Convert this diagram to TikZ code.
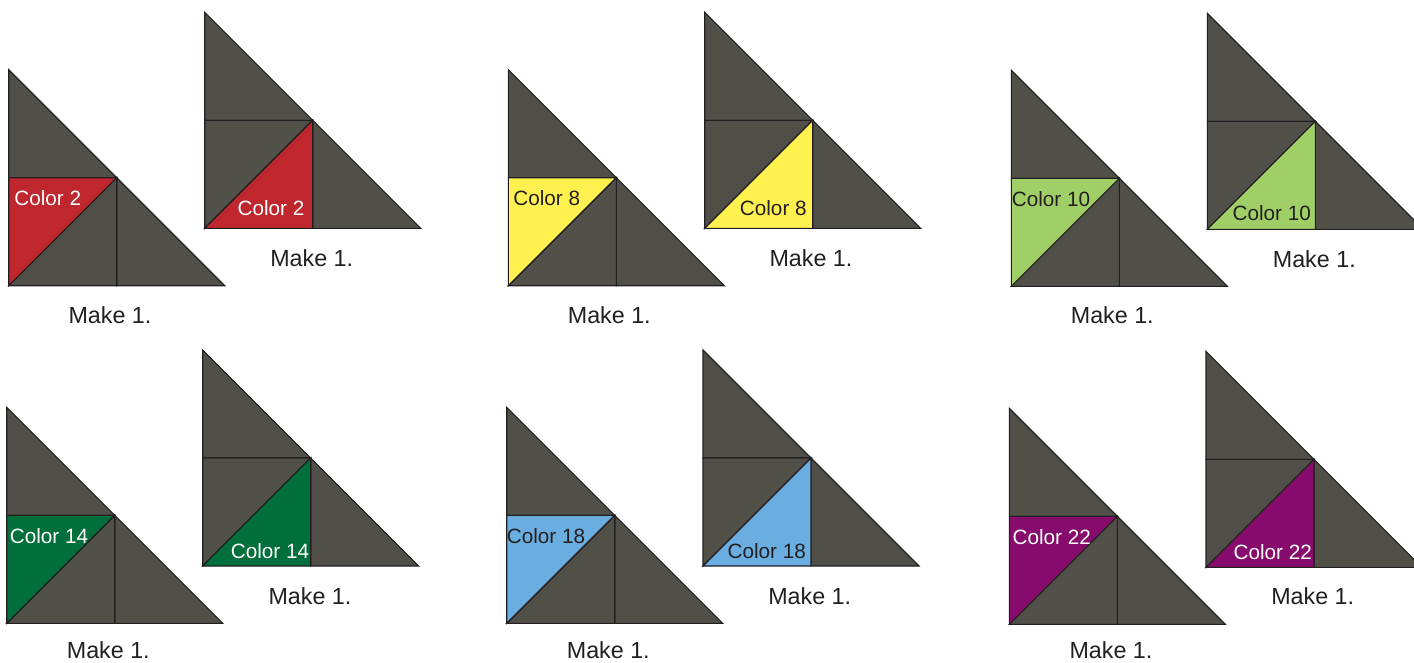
\documentclass[tikz,border=0pt]{standalone}
\usepackage{fontspec}
\setmainfont{Liberation Sans}
\definecolor{patch}{RGB}{81,80,72}
\definecolor{edge}{RGB}{35,31,32}
\definecolor{cred}{RGB}{192,38,45}
\definecolor{cyellow}{RGB}{255,241,80}
\definecolor{clgreen}{RGB}{160,206,103}
\definecolor{cdgreen}{RGB}{0,111,59}
\definecolor{cblue}{RGB}{106,173,224}
\definecolor{cpurple}{RGB}{134,11,109}
\tikzset{
  darkpiece/.style={fill=patch,draw=edge,line width=1.1pt},
  colpiece/.style={draw=edge,line width=1.1pt},
  makelbl/.style={text=edge,inner sep=0pt,font=\fontsize{23.3}{28}\selectfont},
  collbl/.style={inner sep=0pt,font=\fontsize{20.7}{25}\selectfont},
}
% left unit: #1 = x0, #2 = y bottom, #3 = colour
\newcommand\qunitL[3]{%
  \draw[darkpiece] (#1,#2-216) -- (#1,#2-108) -- (#1+108,#2-108) -- cycle;
  \draw[darkpiece] (#1+108,#2-108) -- (#1+108,#2) -- (#1+216,#2) -- cycle;
  \draw[darkpiece] (#1,#2) -- (#1+108,#2-108) -- (#1+108,#2) -- cycle;
  \draw[colpiece,fill=#3] (#1,#2-108) -- (#1+108,#2-108) -- (#1,#2) -- cycle;
}
% right unit
\newcommand\qunitR[3]{%
  \draw[darkpiece] (#1,#2-216) -- (#1,#2-108) -- (#1+108,#2-108) -- cycle;
  \draw[darkpiece] (#1+108,#2-108) -- (#1+108,#2) -- (#1+216,#2) -- cycle;
  \draw[darkpiece] (#1,#2) -- (#1,#2-108) -- (#1+108,#2-108) -- cycle;
  \draw[colpiece,fill=#3] (#1,#2) -- (#1+108,#2) -- (#1+108,#2-108) -- cycle;
}
\begin{document}
\begin{tikzpicture}[x=1pt,y=-1pt]
\useasboundingbox (0,0) rectangle (1414,662);
\begin{scope}
\clip (0,0) rectangle (1414,662);
% row 1
\qunitL{8.7}{285.7}{cred}
\qunitR{204.7}{228.3}{cred}
\qunitL{508.3}{285.7}{cyellow}
\qunitR{704.7}{228.3}{cyellow}
\qunitL{1011.3}{286.3}{clgreen}
\qunitR{1207.3}{229.3}{clgreen}
% row 2
\qunitL{6.7}{623.3}{cdgreen}
\qunitR{202.7}{566}{cdgreen}
\qunitL{506.7}{623.3}{cblue}
\qunitR{703}{566}{cblue}
\qunitL{1009.3}{624.3}{cpurple}
\qunitR{1206}{567.3}{cpurple}
\end{scope}
% colour labels
\node[collbl,text=white] (c1) at (47.7,198) {Color 2};
\node[collbl,text=white] (c2) at (271,207.7) {Color 2};
\node[collbl,text=edge] (c3) at (546.7,198) {Color 8};
\node[collbl,text=edge] (c4) at (773.3,208) {Color 8};
\node[collbl,text=edge] (c5) at (1051,199.3) {Color 10};
\node[collbl,text=edge] (c6) at (1271.7,213.3) {Color 10};
\node[collbl,text=white] (c7) at (49,535.7) {Color 14};
\node[collbl,text=white] (c8) at (270,550.7) {Color 14};
\node[collbl,text=edge] (c9) at (546,536) {Color 18};
\node[collbl,text=edge] (c10) at (766.7,550.7) {Color 18};
\node[collbl,text=white] (c11) at (1051.7,536.7) {Color 22};
\node[collbl,text=white] (c12) at (1272.7,551.7) {Color 22};
% make labels
\node[makelbl] (m1) at (110,315) {Make 1.};
\node[makelbl] (m2) at (311.7,257.7) {Make 1.};
\node[makelbl] (m3) at (609.3,315) {Make 1.};
\node[makelbl] (m4) at (811,258) {Make 1.};
\node[makelbl] (m5) at (1112.3,315) {Make 1.};
\node[makelbl] (m6) at (1314.3,259) {Make 1.};
\node[makelbl] (m7) at (108.3,650) {Make 1.};
\node[makelbl] (m8) at (310,596) {Make 1.};
\node[makelbl] (m9) at (608.3,650) {Make 1.};
\node[makelbl] (m10) at (809.7,596) {Make 1.};
\node[makelbl] (m11) at (1111,650) {Make 1.};
\node[makelbl] (m12) at (1312.7,596) {Make 1.};
\end{tikzpicture}
\end{document}
